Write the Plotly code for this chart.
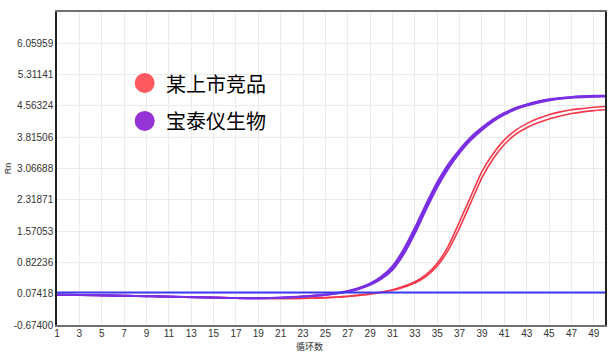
import plotly.graph_objects as go

cycles = list(range(1, 51))

red_a = [0.050, 0.048, 0.045, 0.040, 0.035, 0.030, 0.025, 0.020, 0.015, 0.010,
         0.005, 0.000, -0.005, -0.010, -0.015, -0.020, -0.025, -0.030, -0.033, -0.036,
         -0.038, -0.038, -0.035, -0.030, -0.020, -0.005, 0.015, 0.040, 0.070, 0.115,
         0.170, 0.250, 0.360, 0.530, 0.800, 1.220, 1.800, 2.400, 3.000, 3.420,
         3.750, 3.980, 4.140, 4.260, 4.350, 4.420, 4.470, 4.500, 4.530, 4.550]
red_b = [0.048, 0.046, 0.043, 0.039, 0.034, 0.029, 0.024, 0.019, 0.014, 0.009,
         0.004, -0.001, -0.006, -0.011, -0.016, -0.021, -0.026, -0.031, -0.035, -0.038,
         -0.040, -0.040, -0.038, -0.033, -0.024, -0.010, 0.008, 0.032, 0.062, 0.105,
         0.155, 0.230, 0.330, 0.490, 0.740, 1.120, 1.650, 2.250, 2.850, 3.300,
         3.640, 3.880, 4.040, 4.160, 4.250, 4.320, 4.380, 4.420, 4.450, 4.470]
purple_a = [0.053, 0.050, 0.046, 0.042, 0.037, 0.032, 0.027, 0.021, 0.016, 0.011,
            0.005, -0.001, -0.007, -0.013, -0.019, -0.025, -0.029, -0.032, -0.032, -0.028,
            -0.020, -0.007, 0.009, 0.029, 0.055, 0.092, 0.140, 0.212, 0.320, 0.485,
            0.735, 1.135, 1.650, 2.215, 2.740, 3.170, 3.520, 3.815, 4.045, 4.240,
            4.395, 4.515, 4.600, 4.670, 4.720, 4.752, 4.778, 4.793, 4.803, 4.808]
purple_b = [0.050, 0.047, 0.044, 0.040, 0.035, 0.030, 0.025, 0.020, 0.015, 0.010,
            0.004, -0.002, -0.008, -0.014, -0.020, -0.026, -0.030, -0.033, -0.033, -0.030,
            -0.022, -0.010, 0.005, 0.025, 0.050, 0.085, 0.130, 0.200, 0.300, 0.450,
            0.690, 1.070, 1.580, 2.150, 2.680, 3.120, 3.480, 3.780, 4.020, 4.220,
            4.380, 4.500, 4.590, 4.660, 4.710, 4.745, 4.770, 4.785, 4.795, 4.800]
purple_c = [0.048, 0.045, 0.042, 0.038, 0.033, 0.028, 0.023, 0.018, 0.013, 0.008,
            0.003, -0.003, -0.009, -0.015, -0.021, -0.027, -0.031, -0.034, -0.035, -0.032,
            -0.025, -0.013, 0.001, 0.021, 0.045, 0.078, 0.121, 0.188, 0.285, 0.425,
            0.645, 1.015, 1.515, 2.085, 2.620, 3.070, 3.440, 3.745, 3.990, 4.195,
            4.355, 4.480, 4.570, 4.640, 4.695, 4.732, 4.758, 4.773, 4.783, 4.790]
threshold = [0.10, 0.10]
threshold_x = [1, 50]

y_tickvals = [-0.674, 0.07418, 0.82236, 1.57053, 2.31871, 3.06688, 3.81506, 4.56324, 5.31141, 6.05959]
y_ticktext = ["-0.67400", "0.07418", "0.82236", "1.57053", "2.31871", "3.06688", "3.81506", "4.56324", "5.31141", "6.05959"]
x_tickvals = list(range(1, 50, 2))

legend_names = ["某上市竞品", "宝泰仪生物"]
legend_colors = ["#FF5A60", "#9433D6"]

RED = "#F4384A"
PURPLE = "#7B2FE3"
BLUE = "#3A3AF5"

fig = go.Figure()
for s in [red_a, red_b]:
    fig.add_trace(go.Scatter(x=cycles, y=s, mode="lines",
                             line=dict(color=RED, width=1.6, shape="spline", smoothing=0.6),
                             showlegend=False, hoverinfo="skip"))
for s in [purple_a, purple_b, purple_c]:
    fig.add_trace(go.Scatter(x=cycles, y=s, mode="lines",
                             line=dict(color=PURPLE, width=2, shape="spline", smoothing=0.6),
                             showlegend=False, hoverinfo="skip"))
fig.add_trace(go.Scatter(x=threshold_x, y=threshold, mode="lines",
                         line=dict(color=BLUE, width=2), showlegend=False, hoverinfo="skip"))

# legend drawn as circles + text
leg_y = [0.773, 0.652]
for name, col, yy in zip(legend_names, legend_colors, leg_y):
    fig.add_shape(type="circle", xref="paper", yref="paper",
                  xsizemode="pixel", ysizemode="pixel",
                  xanchor=0.16, yanchor=yy, x0=-10, x1=10, y0=-10, y1=10,
                  fillcolor=col, line=dict(width=0))
    fig.add_annotation(x=0.196, y=yy, xref="paper", yref="paper", text=name,
                       showarrow=False, xanchor="left", yanchor="middle",
                       font=dict(size=20, color="#000000", family="Noto Sans CJK SC"))

fig.add_annotation(x=-0.090, y=0.50, xref="paper", yref="paper", text="Rn",
                   textangle=-90, showarrow=False, xanchor="center", yanchor="middle",
                   font=dict(size=9, color="#333333", family="Liberation Sans"))
fig.add_annotation(x=0.46, y=-0.068, xref="paper", yref="paper", text="循环数",
                   showarrow=False, xanchor="center", yanchor="middle",
                   font=dict(size=9, color="#333333", family="Noto Sans CJK SC"))

fig.update_layout(
    width=616, height=353,
    margin=dict(l=57, r=9, t=12, b=28),
    paper_bgcolor="white", plot_bgcolor="white",
    font=dict(family="Liberation Sans", size=10, color="#333333"),
)
fig.update_xaxes(range=[1, 50], tickvals=x_tickvals, showgrid=True, gridcolor="#EBEBEB",
                 gridwidth=1, showline=True, linecolor="#707070", linewidth=2, mirror=True,
                 ticks="", zeroline=False, ticklabelstandoff=-2,
                 tickfont=dict(size=10, color="#333333"))
fig.update_yaxes(range=[-0.674, 6.8078], tickvals=y_tickvals, ticktext=y_ticktext,
                 showgrid=True, gridcolor="#EBEBEB", gridwidth=1, showline=True,
                 linecolor="#222222", linewidth=1.5, mirror=True, ticks="", zeroline=False,
                 tickfont=dict(size=10, color="#333333"))

fig.write_html("out.html")
